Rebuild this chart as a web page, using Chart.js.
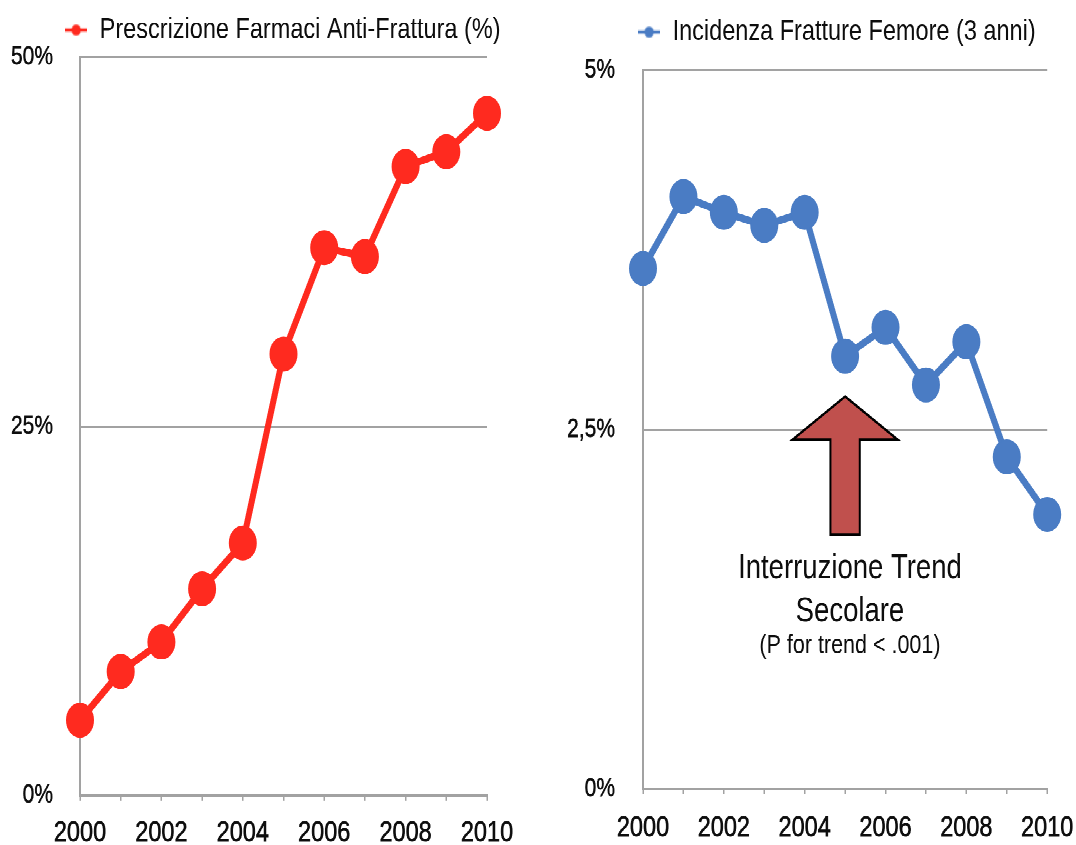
<!DOCTYPE html>
<html><head><meta charset="utf-8">
<script src="https://cdn.jsdelivr.net/npm/chart.js@4.4.1/dist/chart.umd.min.js"></script>
<style>
html,body{margin:0;padding:0;background:#fff;overflow:hidden;width:1076px;height:845px;}
#stage{position:absolute;left:0;top:0;width:1076px;height:676px;transform:scaleY(1.25);transform-origin:0 0;}
#boxL{position:absolute;left:0;top:0;width:565px;height:676px;}
#boxR{position:absolute;left:560px;top:0;width:553px;height:676px;}
</style></head><body>
<div id="stage"><div id="boxL"><canvas id="cL"></canvas></div><div id="boxR"><canvas id="cR"></canvas></div></div>
<script>
// ---- data ----
const years = ['2000','2001','2002','2003','2004','2005','2006','2007','2008','2009','2010'];
const prescrizione = [5.1, 8.4, 10.4, 14.0, 17.1, 29.9, 37.1, 36.5, 42.6, 43.6, 46.2];
const incidenza = [3.62, 4.12, 4.01, 3.92, 4.01, 3.01, 3.21, 2.81, 3.11, 2.31, 1.91];
const ticksPrescrizione = [0, 25, 50];
const ticksIncidenza = [0, 2.5, 5];
const seriesNames = ['Prescrizione Farmaci Anti-Frattura (%)', 'Incidenza Fratture Femore (3 anni)'];
const annotationYear = '2005';
const annotationArrow = [2.73, 2.43, 1.77]; // tip, head base, tail (values on right axis)
const annotationLines = ['Interruzione Trend', 'Secolare', '(P for trend < .001)'];

// ---- styles ----
const RED = '#FF2A1F', BLUE = '#4A7CC4', GRID = '#A2A2A2', TEXT = '#0d0d0d';
Chart.defaults.font.family = '"Liberation Sans", Arial, sans-serif';
Chart.defaults.color = TEXT;

function legendMarker(color) {
  const c = document.createElement('canvas');
  c.width = 22; c.height = 10;
  const g = c.getContext('2d');
  g.strokeStyle = color; g.lineWidth = 2.5;
  g.beginPath(); g.moveTo(0, 5); g.lineTo(22, 5); g.stroke();
  g.fillStyle = color; g.beginPath(); g.arc(11, 5, 4.6, 0, Math.PI * 2); g.fill();
  return c;
}

function makeOptions(cfg) {
  return {
    responsive: true, maintainAspectRatio: false, animation: false,
    devicePixelRatio: 2,
    events: [],
    layout: { padding: { top: cfg.padTop, right: 0, left: 0, bottom: 0 } },
    plugins: {
      tooltip: { enabled: false },
      legend: {
        display: true, position: 'top', align: 'center',
        labels: {
          usePointStyle: true, boxHeight: 6, padding: 10, color: TEXT,
          font: { size: 23.5 },
          generateLabels(chart) {
            const items = Chart.defaults.plugins.legend.labels.generateLabels(chart);
            items.forEach(it => { it.pointStyle = cfg.marker; });
            return items;
          }
        }
      },
      title: cfg.spacer ? { display: true, text: '', padding: 0, weight: 500, font: { size: cfg.spacer, lineHeight: 1.2 } } : { display: false }
    },
    scales: {
      x: {
        type: 'category', offset: false,
        grid: { display: true, drawOnChartArea: false, drawTicks: true, tickLength: 4, color: GRID, lineWidth: 1.5 },
        border: { display: true, color: GRID, width: 2 },
        ticks: {
          autoSkip: false, maxRotation: 0, padding: cfg.xPad, color: TEXT, font: { size: 23.5 },
          textStrokeColor: TEXT, textStrokeWidth: 0.5,
          callback(v, i) { return i % 2 === 0 ? this.getLabelForValue(v) : ''; }
        },
        afterFit(s) { s.height = cfg.xHeight; }
      },
      y: {
        min: cfg.min, max: cfg.max,
        afterBuildTicks(s) { s.ticks = cfg.ticks.map(v => ({ value: v })); },
        grid: { display: true, drawTicks: false, color: GRID, lineWidth: 1.5 },
        border: { display: true, color: GRID, width: 2 },
        ticks: { padding: cfg.yPad, color: TEXT, font: { size: 21 }, textStrokeColor: TEXT, textStrokeWidth: 0.4, callback: cfg.fmt },
        afterFit(s) { s.width = cfg.yWidth; }
      },
      // empty right-hand margin so that the legend stays centred on the whole panel
      margin: {
        type: 'linear', position: 'right', display: true,
        grid: { display: false }, border: { display: false }, ticks: { display: false },
        afterFit(s) { s.width = cfg.padRight; }
      }
    }
  };
}

function dataset(label, data, color) {
  return {
    label, data, borderColor: color, backgroundColor: color,
    borderWidth: 6, tension: 0, clip: false, yAxisID: 'y',
    pointRadius: 13.5, pointBorderWidth: 1, pointBorderColor: color, pointBackgroundColor: color,
    pointStyle: 'circle'
  };
}

// ---- left chart ----
new Chart(document.getElementById('cL'), {
  type: 'line',
  data: { labels: years, datasets: [dataset(seriesNames[0], prescrizione, RED)] },
  options: makeOptions({
    padTop: 2.25, padRight: 78, xPad: 12, xHeight: 38.4, yPad: 27, yWidth: 80,
    min: 0, max: 50, ticks: ticksPrescrizione, marker: legendMarker(RED),
    fmt: v => v + '%'
  })
});

// ---- right chart ----
const arrowNote = {
  id: 'arrowNote',
  afterDraw(chart) {
    const { ctx } = chart;
    const x = chart.scales.x, y = chart.scales.y;
    const idx = years.indexOf(annotationYear);
    const cx = x.getPixelForValue(idx);
    const step = x.getPixelForValue(1) - x.getPixelForValue(0);
    const tip = y.getPixelForValue(annotationArrow[0]);
    const base = y.getPixelForValue(annotationArrow[1]);
    const tail = y.getPixelForValue(annotationArrow[2]);
    const hw = 1.30 * step, sw = 0.363 * step;
    ctx.save();
    ctx.beginPath();
    ctx.moveTo(cx, tip);
    ctx.lineTo(cx + hw, base);
    ctx.lineTo(cx + sw, base);
    ctx.lineTo(cx + sw, tail);
    ctx.lineTo(cx - sw, tail);
    ctx.lineTo(cx - sw, base);
    ctx.lineTo(cx - hw, base);
    ctx.closePath();
    ctx.fillStyle = '#C0504D';
    ctx.fill();
    ctx.lineWidth = 2; ctx.lineJoin = 'miter'; ctx.strokeStyle = '#000';
    ctx.stroke();
    const tx = cx + 0.12 * step;
    ctx.fillStyle = TEXT; ctx.textAlign = 'center'; ctx.textBaseline = 'alphabetic';
    ctx.font = '27.5px "Liberation Sans", Arial, sans-serif';
    ctx.fillText(annotationLines[0], tx, tail + 34.7);
    ctx.fillText(annotationLines[1], tx, tail + 69.3);
    ctx.font = '21.5px "Liberation Sans", Arial, sans-serif';
    ctx.fillText(annotationLines[2], tx, tail + 94.7);
    ctx.restore();
  }
};

new Chart(document.getElementById('cR'), {
  type: 'line',
  data: { labels: years, datasets: [dataset(seriesNames[1], incidenza, BLUE)] },
  options: makeOptions({
    padTop: 3.85, padRight: 65.8, xPad: 13, xHeight: 44.8, yPad: 28, yWidth: 83,
    min: 0, max: 5, ticks: ticksIncidenza, marker: legendMarker(BLUE), spacer: 7.2,
    fmt: v => String(v).replace('.', ',') + '%'
  }),
  plugins: [arrowNote]
});
</script>
</body></html>
